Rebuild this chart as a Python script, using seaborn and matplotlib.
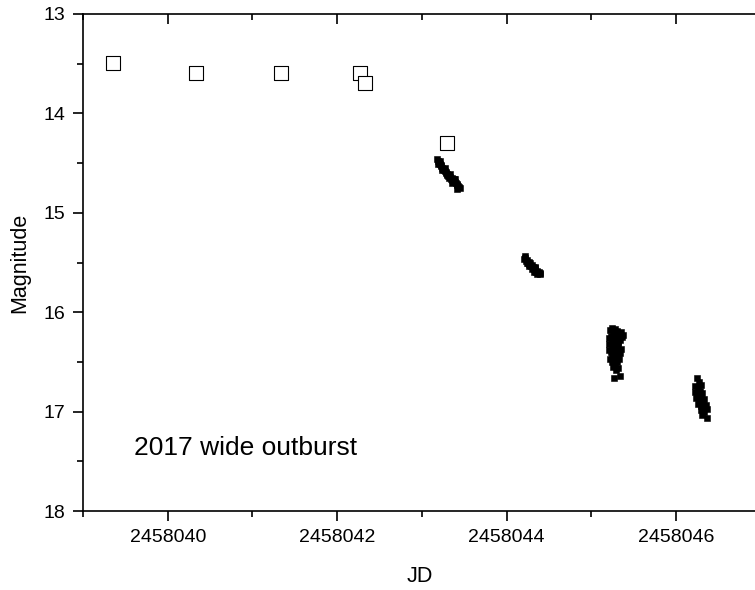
import matplotlib
matplotlib.use("Agg")
import matplotlib.pyplot as plt
import seaborn as sns
import pandas as pd
from matplotlib.ticker import MultipleLocator, FormatStrFormatter

# --- data -------------------------------------------------------------
open_jd = [2458039.35, 2458040.33, 2458041.34, 2458042.27, 2458042.33, 2458043.30]
open_mag = [13.49, 13.59, 13.59, 13.59, 13.69, 14.30]

c1_jd = [2458043.18, 2458043.19, 2458043.20, 2458043.21, 2458043.22, 2458043.23,
         2458043.24, 2458043.25, 2458043.26, 2458043.27, 2458043.28, 2458043.29,
         2458043.30, 2458043.31, 2458043.32, 2458043.33, 2458043.34, 2458043.35,
         2458043.36, 2458043.37, 2458043.38, 2458043.39, 2458043.40, 2458043.41,
         2458043.42, 2458043.43, 2458043.44, 2458043.45, 2458043.21, 2458043.27,
         2458043.33, 2458043.39, 2458043.19, 2458043.24, 2458043.30, 2458043.36,
         2458043.42]
c1_mag = [14.46, 14.48, 14.50, 14.51, 14.53, 14.52, 14.55, 14.56, 14.57, 14.58,
          14.60, 14.59, 14.61, 14.63, 14.65, 14.64, 14.66, 14.65, 14.67, 14.68,
          14.66, 14.69, 14.70, 14.71, 14.72, 14.73, 14.74, 14.75, 14.48, 14.55,
          14.61, 14.66, 14.51, 14.57, 14.62, 14.70, 14.76]

c2_jd = [2458044.21, 2458044.22, 2458044.23, 2458044.24, 2458044.25, 2458044.26,
         2458044.27, 2458044.28, 2458044.29, 2458044.30, 2458044.31, 2458044.32,
         2458044.33, 2458044.34, 2458044.35, 2458044.36, 2458044.37, 2458044.38,
         2458044.39, 2458044.40, 2458044.24, 2458044.27, 2458044.30, 2458044.33,
         2458044.36, 2458044.22, 2458044.32]
c2_mag = [15.46, 15.45, 15.48, 15.47, 15.50, 15.49, 15.52, 15.51, 15.54, 15.53,
          15.55, 15.57, 15.56, 15.58, 15.60, 15.59, 15.61, 15.60, 15.62, 15.61,
          15.50, 15.54, 15.57, 15.55, 15.62, 15.43, 15.60]

c3_jd = [2458045.22, 2458045.24, 2458045.26, 2458045.28, 2458045.30, 2458045.33,
         2458045.35, 2458045.37, 2458045.21, 2458045.23, 2458045.25, 2458045.27,
         2458045.29, 2458045.31, 2458045.34, 2458045.36, 2458045.21, 2458045.24,
         2458045.26, 2458045.28, 2458045.30, 2458045.32, 2458045.35, 2458045.21,
         2458045.23, 2458045.25, 2458045.27, 2458045.29, 2458045.31, 2458045.34,
         2458045.22, 2458045.24, 2458045.26, 2458045.28, 2458045.30, 2458045.33,
         2458045.26, 2458045.29, 2458045.32, 2458045.27, 2458045.34]
c3_mag = [16.18, 16.16, 16.20, 16.17, 16.19, 16.22, 16.20, 16.23, 16.26, 16.24,
          16.28, 16.25, 16.27, 16.30, 16.28, 16.25, 16.32, 16.35, 16.31, 16.34,
          16.36, 16.33, 16.37, 16.38, 16.40, 16.43, 16.39, 16.42, 16.45, 16.41,
          16.47, 16.50, 16.48, 16.52, 16.50, 16.47, 16.55, 16.58, 16.56, 16.66,
          16.64]

c4_jd = [2458046.25, 2458046.27, 2458046.23, 2458046.26, 2458046.29, 2458046.22,
         2458046.25, 2458046.28, 2458046.31, 2458046.24, 2458046.27, 2458046.30,
         2458046.33, 2458046.26, 2458046.29, 2458046.32, 2458046.35, 2458046.30,
         2458046.33, 2458046.36, 2458046.31, 2458046.36]
c4_mag = [16.66, 16.70, 16.74, 16.76, 16.73, 16.80, 16.82, 16.79, 16.81, 16.86,
          16.88, 16.85, 16.87, 16.92, 16.94, 16.91, 16.93, 16.98, 17.00, 16.97,
          17.03, 17.06]

x_ticks = [2458040, 2458042, 2458044, 2458046]
y_ticks = [13, 14, 15, 16, 17, 18]
annotation = "2017 wide outburst"

# --- figure -----------------------------------------------------------
sns.set_style("ticks")
plt.rcParams["font.family"] = ["Liberation Sans", "DejaVu Sans"]
plt.rcParams["text.color"] = "black"
plt.rcParams["axes.labelcolor"] = "black"

fig = plt.figure(figsize=(7.55, 5.9), dpi=100)
ax = fig.add_axes([83 / 755, 1 - 511 / 590, (757 - 83) / 755, (511 - 14) / 590])

df_open = pd.DataFrame({"JD": open_jd, "Magnitude": open_mag})
df_fill = pd.DataFrame({"JD": c1_jd + c2_jd + c3_jd + c4_jd,
                        "Magnitude": c1_mag + c2_mag + c3_mag + c4_mag})

sns.scatterplot(data=df_fill, x="JD", y="Magnitude", marker="s", s=22,
                color="black", edgecolor="black", linewidth=0.4, ax=ax, zorder=3)
sns.scatterplot(data=df_open, x="JD", y="Magnitude", marker="s", s=108,
                facecolor="white", edgecolor="black", linewidth=0.8, ax=ax, zorder=4)

ax.set_xlim(2458039.0, 2458046.956)
ax.set_ylim(18, 13)
ax.set_xticks(x_ticks)
ax.set_yticks(y_ticks)
ax.xaxis.set_minor_locator(MultipleLocator(1))
ax.yaxis.set_minor_locator(MultipleLocator(0.5))
ax.xaxis.set_major_formatter(FormatStrFormatter("%d"))
ax.yaxis.set_major_formatter(FormatStrFormatter("%d"))

for sp in ax.spines.values():
    sp.set_visible(True)
    sp.set_linewidth(1.2)
    sp.set_color("black")

ax.tick_params(axis="both", which="major", direction="out", length=7, width=1.2,
               labelsize=14, colors="black", labelcolor="black", pad=6)
ax.tick_params(axis="both", which="minor", direction="out", length=4, width=1.2,
               colors="black")
ax.tick_params(top=True, right=True, which="both")
# top/right ticks point inward
for t in ax.xaxis.get_major_ticks() + ax.xaxis.get_minor_ticks():
    t.tick2line.set_marker(3)
for t in ax.yaxis.get_major_ticks() + ax.yaxis.get_minor_ticks():
    t.tick2line.set_marker(1)

ax.set_xlabel("JD", fontsize=15.5, labelpad=14, color="black")
ax.set_ylabel("Magnitude", fontsize=15.5, labelpad=9, color="black")

ax.text(2458039.6, 17.37, annotation, fontsize=19, ha="left", va="center",
        color="black")

fig.savefig("out.png", dpi=100)
